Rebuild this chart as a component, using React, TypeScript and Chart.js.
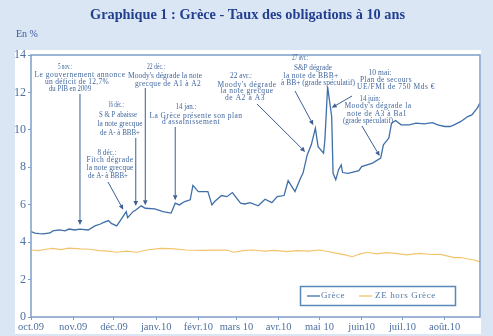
import React, { useEffect, useRef } from "react";
import { Chart, registerables } from "chart.js";

Chart.register(...registerables);

// Month ticks on the time axis
const monthStarts = [
  "2009-10-01", "2009-11-01", "2009-12-01", "2010-01-01", "2010-02-01", "2010-03-01",
  "2010-04-01", "2010-05-01", "2010-06-01", "2010-07-01", "2010-08-01",
];
const monthLabels = [
  "oct.09", "nov.09", "déc.09", "janv.10", "févr.10", "mars 10",
  "avr.10", "mai 10", "juin10", "juil.10", "août.10",
];
const yTickValues = [0, 2, 4, 6, 8, 10, 12, 14];

// Greek 10-year bond yield (%)
const greeceDates = [
  "2009-10-01", "2009-10-04", "2009-10-07", "2009-10-10", "2009-10-15", "2009-10-17",
  "2009-10-22", "2009-10-26", "2009-10-29", "2009-11-02", "2009-11-06", "2009-11-12",
  "2009-11-17", "2009-11-21", "2009-11-23", "2009-11-27", "2009-11-29", "2009-12-03",
  "2009-12-06", "2009-12-10", "2009-12-11", "2009-12-15", "2009-12-17", "2009-12-21",
  "2009-12-24", "2009-12-31", "2010-01-06", "2010-01-12", "2010-01-15", "2010-01-18",
  "2010-01-22", "2010-01-26", "2010-01-28", "2010-02-01", "2010-02-08", "2010-02-11",
  "2010-02-13", "2010-02-18", "2010-02-22", "2010-02-26", "2010-03-04", "2010-03-07",
  "2010-03-11", "2010-03-17", "2010-03-22", "2010-03-27", "2010-03-31", "2010-04-05",
  "2010-04-08", "2010-04-13", "2010-04-17", "2010-04-19", "2010-04-22", "2010-04-25",
  "2010-04-28", "2010-04-30", "2010-05-04", "2010-05-05", "2010-05-07", "2010-05-10",
  "2010-05-11", "2010-05-13", "2010-05-15", "2010-05-17", "2010-05-18", "2010-05-22",
  "2010-05-30", "2010-06-01", "2010-06-09", "2010-06-15", "2010-06-17", "2010-06-21",
  "2010-06-23", "2010-06-26", "2010-06-30", "2010-07-06", "2010-07-11", "2010-07-17",
  "2010-07-23", "2010-07-27", "2010-08-01", "2010-08-05", "2010-08-08", "2010-08-13",
  "2010-08-18", "2010-08-21", "2010-08-25", "2010-08-27",
];
const greeceValues = [
  4.56, 4.48, 4.45, 4.44, 4.49, 4.6,
  4.65, 4.6, 4.7, 4.65, 4.7, 4.65,
  4.87, 4.97, 5.04, 5.15, 5.0, 4.87,
  5.19, 5.63, 5.31, 5.63, 5.72, 5.94,
  5.81, 5.78, 5.63, 5.55, 6.08, 5.99,
  6.17, 6.26, 7.03, 6.7, 6.7, 5.99,
  6.17, 6.49, 6.43, 6.65, 6.08, 6.04,
  6.11, 5.94, 6.29, 6.11, 6.43, 6.49,
  7.29, 6.7, 7.4, 7.7, 8.66, 9.2,
  10.09, 9.1, 8.75, 9.47, 12.3, 10.7,
  7.68, 7.33, 7.86, 8.13, 7.72, 7.68,
  7.82, 8.04, 8.22, 8.49, 9.2, 9.56,
  10.36, 10.5, 10.27, 10.27, 10.36, 10.32,
  10.39, 10.27, 10.18, 10.18, 10.27, 10.45,
  10.71, 10.8, 11.16, 11.43,
];

// Euro area excluding Greece, 10-year yield (%)
const zeDates = [
  "2009-10-01", "2009-10-06", "2009-10-12", "2009-10-17", "2009-10-23", "2009-10-29",
  "2009-11-06", "2009-11-13", "2009-11-20", "2009-11-27", "2009-12-03", "2009-12-10",
  "2009-12-18", "2009-12-25", "2010-01-04", "2010-01-12", "2010-01-23", "2010-02-05",
  "2010-02-15", "2010-02-22", "2010-02-27", "2010-03-06", "2010-03-13", "2010-03-22",
  "2010-03-29", "2010-04-07", "2010-04-15", "2010-04-23", "2010-05-01", "2010-05-07",
  "2010-05-14", "2010-05-20", "2010-05-25", "2010-05-30", "2010-06-05", "2010-06-12",
  "2010-06-19", "2010-06-26", "2010-07-04", "2010-07-14", "2010-07-22", "2010-07-29",
  "2010-08-08", "2010-08-13", "2010-08-18", "2010-08-22", "2010-08-27",
];
const zeValues = [
  3.58, 3.55, 3.62, 3.67, 3.6, 3.68,
  3.64, 3.62, 3.55, 3.52, 3.46, 3.52,
  3.46, 3.58, 3.67, 3.65, 3.58, 3.56,
  3.57, 3.58, 3.46, 3.55, 3.58, 3.52,
  3.56, 3.49, 3.55, 3.52, 3.58, 3.5,
  3.4, 3.32, 3.22, 3.35, 3.46, 3.37,
  3.44, 3.4, 3.32, 3.4, 3.34, 3.35,
  3.17, 3.18, 3.1, 3.06, 2.94,
];

const SERIF = '"Liberation Serif", "Times New Roman", serif';
const PAGE_BG = "#dbe6f5";
const AXIS = "#7f9fc7";
const TICK_TEXT = "#4f70a0";
const NOTE_TEXT = "#41679e";
const NOTE_LINE = "#3d5f92";
const GREECE = "#3f6fa8";
const ZE = "#f3c46c";

const ORIGIN = Date.UTC(2009, 9, 1);
function dayOf(iso: string): number {
  const [y, m, d] = iso.split("-").map(Number);
  return (Date.UTC(y, m - 1, d) - ORIGIN) / 86400000;
}
const monthDays = monthStarts.map(dayOf);
const X_MAX = dayOf("2010-08-27");

type NoteLine = { text: string; cx: number; cy: number; w: number };
type Note = { date: string; dx: number; dy: number; tail: [number | null, number]; lines: NoteLine[] };

// Event call-outs: text blocks with an arrow ending on the Greek curve
const notes: Note[] = [
  {
    date: "2009-11-06", dx: 0, dy: -4, tail: [null, 94],
    lines: [
      { text: "5 nov.:", cx: 65, cy: 67.5, w: 14 },
      { text: "Le gouvernement annonce", cx: 80, cy: 75, w: 91 },
      { text: "un déficit de 12,7%", cx: 77, cy: 82, w: 64 },
      { text: "du PIB en 2009", cx: 70, cy: 89.5, w: 42 },
    ],
  },
  {
    date: "2009-12-10", dx: -3, dy: -2, tail: [108, 182],
    lines: [
      { text: "8 déc.:", cx: 107, cy: 153, w: 19 },
      { text: "Fitch dégrade", cx: 110, cy: 160, w: 47 },
      { text: "la note grecque", cx: 110, cy: 168, w: 47 },
      { text: "de A- à BBB+", cx: 108, cy: 176, w: 40 },
    ],
  },
  {
    date: "2009-12-17", dx: 0, dy: -4, tail: [null, 138],
    lines: [
      { text: "16 déc.:", cx: 116, cy: 105.5, w: 16 },
      { text: "S & P abaisse", cx: 118, cy: 115, w: 38 },
      { text: "la note grecque", cx: 120, cy: 124, w: 45 },
      { text: "de A- à BBB+", cx: 120, cy: 133, w: 40 },
    ],
  },
  {
    date: "2009-12-24", dx: 0, dy: -3, tail: [null, 88],
    lines: [
      { text: "22 déc.:", cx: 156, cy: 67.5, w: 18 },
      { text: "Moody's dégrade la note", cx: 165, cy: 76.5, w: 74 },
      { text: "grecque de A1 à A2", cx: 168, cy: 84, w: 66 },
    ],
  },
  {
    date: "2010-01-15", dx: 0, dy: -3, tail: [null, 127],
    lines: [
      { text: "14 jan.:", cx: 186, cy: 107, w: 21 },
      { text: "La Grèce présente son plan", cx: 196, cy: 116, w: 93 },
      { text: "d'assainissement", cx: 191, cy: 122.5, w: 58 },
    ],
  },
  {
    date: "2010-04-22", dx: -2, dy: -3, tail: [257, 104],
    lines: [
      { text: "22 avr.:", cx: 241, cy: 76.5, w: 22 },
      { text: "Moody's dégrade", cx: 247, cy: 85, w: 59 },
      { text: "la note grecque", cx: 247, cy: 91.5, w: 53 },
      { text: "de A2 à A3", cx: 245, cy: 98.5, w: 40 },
    ],
  },
  {
    date: "2010-04-28", dx: -2, dy: -3, tail: [295, 91],
    lines: [
      { text: "27 avr.:", cx: 300, cy: 58.5, w: 16 },
      { text: "S&P dégrade", cx: 313, cy: 68.5, w: 38 },
      { text: "la note de BBB+", cx: 311, cy: 76.5, w: 55 },
      { text: "à BB+ (grade spéculatif)", cx: 318, cy: 83.5, w: 74 },
    ],
  },
  {
    date: "2010-05-10", dx: 0, dy: -9, tail: [352, 96],
    lines: [
      { text: "10 mai:", cx: 380, cy: 73.5, w: 23 },
      { text: "Plan de secours", cx: 386, cy: 80.5, w: 52 },
      { text: "UE/FMI de 750 Mds €", cx: 396, cy: 87.5, w: 78 },
    ],
  },
  {
    date: "2010-06-15", dx: -1, dy: -2, tail: [362, 126],
    lines: [
      { text: "14 juin:", cx: 370, cy: 99.5, w: 21 },
      { text: "Moody's dégrade la", cx: 378, cy: 106.5, w: 67 },
      { text: "note de A3 à Ba1", cx: 377, cy: 114, w: 60 },
      { text: "(grade spéculatif)", cx: 368, cy: 121, w: 50 },
    ],
  },
];

// Draws text centred on cx and stretched or squeezed to the given width
function fitText(ctx: CanvasRenderingContext2D, text: string, cx: number, cy: number, w: number) {
  const anyCtx = ctx as any;
  anyCtx.letterSpacing = "0px";
  const natural = ctx.measureText(text).width;
  ctx.textAlign = "left";
  ctx.textBaseline = "middle";
  if (natural >= w) {
    ctx.fillText(text, cx - w / 2, cy, w);
  } else {
    const ls = (w - natural) / text.length;
    anyCtx.letterSpacing = `${ls}px`;
    ctx.fillText(text, cx - w / 2, cy);
    anyCtx.letterSpacing = "0px";
  }
}

function arrow(ctx: CanvasRenderingContext2D, x1: number, y1: number, x2: number, y2: number) {
  const ang = Math.atan2(y2 - y1, x2 - x1);
  const len = 5;
  const half = 2.3;
  const bx = x2 - len * Math.cos(ang);
  const by = y2 - len * Math.sin(ang);
  ctx.strokeStyle = NOTE_LINE;
  ctx.fillStyle = NOTE_LINE;
  ctx.lineWidth = 1;
  ctx.beginPath();
  ctx.moveTo(x1, y1);
  ctx.lineTo(bx, by);
  ctx.stroke();
  ctx.beginPath();
  ctx.moveTo(x2, y2);
  ctx.lineTo(bx + half * Math.sin(ang), by - half * Math.cos(ang));
  ctx.lineTo(bx - half * Math.sin(ang), by + half * Math.cos(ang));
  ctx.closePath();
  ctx.fill();
}

const decorPlugin = {
  id: "decor",
  beforeDraw(chart: any) {
    const ctx: CanvasRenderingContext2D = chart.ctx;
    ctx.save();
    ctx.fillStyle = PAGE_BG;
    ctx.fillRect(0, 0, chart.width, chart.height);
    ctx.fillStyle = "#ffffff";
    ctx.fillRect(15, 50, chart.chartArea.right - 15 + 1, chart.height - 52);
    ctx.restore();
  },
  afterDraw(chart: any) {
    const ctx: CanvasRenderingContext2D = chart.ctx;
    const { left, right, top, bottom } = chart.chartArea;
    const xs = chart.scales.x;
    const ys = chart.scales.y;
    ctx.save();

    // plot frame
    ctx.strokeStyle = AXIS;
    ctx.lineWidth = 1.5;
    ctx.strokeRect(left, top, right - left, bottom - top);

    // title and unit
    ctx.fillStyle = "#213f8f";
    ctx.font = `bold 15px ${SERIF}`;
    ctx.textAlign = "center";
    ctx.textBaseline = "middle";
    ctx.fillText("Graphique 1 : Grèce - Taux des obligations à 10 ans", 247.5, 15.5, 315);
    ctx.fillStyle = "#3a5a9a";
    ctx.font = `10px ${SERIF}`;
    ctx.textAlign = "left";
    ctx.fillText("En %", 16, 34.5);

    // call-outs
    ctx.font = `7.5px ${SERIF}`;
    for (const n of notes) {
      ctx.fillStyle = NOTE_TEXT;
      for (const l of n.lines) fitText(ctx, l.text, l.cx, l.cy, l.w);
      const v = greeceValues[greeceDates.indexOf(n.date)];
      const tx = xs.getPixelForValue(dayOf(n.date)) + n.dx;
      const ty = ys.getPixelForValue(v) + n.dy;
      const sx = n.tail[0] === null ? tx : n.tail[0];
      arrow(ctx, sx, n.tail[1], tx, ty);
    }

    // legend
    const lx = 300.5, ly = 286.5, lw = 155, lh = 19;
    ctx.fillStyle = "#ffffff";
    ctx.fillRect(lx, ly, lw, lh);
    ctx.strokeStyle = "#5b87ba";
    ctx.lineWidth = 1.5;
    ctx.strokeRect(lx, ly, lw, lh);
    const midY = ly + lh / 2;
    ctx.lineWidth = 1.3;
    ctx.strokeStyle = GREECE;
    ctx.beginPath();
    ctx.moveTo(307, midY);
    ctx.lineTo(320, midY);
    ctx.stroke();
    ctx.strokeStyle = ZE;
    ctx.beginPath();
    ctx.moveTo(359, midY);
    ctx.lineTo(372, midY);
    ctx.stroke();
    ctx.fillStyle = "#5577a6";
    ctx.font = `9px ${SERIF}`;
    fitText(ctx, "Grèce", 333, midY, 24);
    fitText(ctx, "ZE hors Grèce", 405.5, midY, 61);

    ctx.restore();
  },
};

export default function App() {
  const canvasRef = useRef<HTMLCanvasElement | null>(null);

  useEffect(() => {
    const canvas = canvasRef.current;
    if (!canvas) return;

    const chart = new Chart(canvas, {
      type: "line",
      data: {
        datasets: [
          {
            label: "ZE hors Grèce",
            data: zeDates.map((d, i) => ({ x: dayOf(d), y: zeValues[i] })),
            borderColor: ZE,
            borderWidth: 1.2,
            pointRadius: 0,
            tension: 0,
          },
          {
            label: "Grèce",
            data: greeceDates.map((d, i) => ({ x: dayOf(d), y: greeceValues[i] })),
            borderColor: GREECE,
            borderWidth: 1.3,
            pointRadius: 0,
            tension: 0,
          },
        ],
      },
      options: {
        animation: false,
        responsive: false,
        maintainAspectRatio: false,
        layout: { padding: { left: 15, right: 13, top: 55, bottom: 0 } },
        plugins: {
          legend: { display: false },
          title: { display: false },
          tooltip: { enabled: false },
        },
        scales: {
          x: {
            type: "linear",
            min: 0,
            max: X_MAX,
            afterFit: (s: any) => {
              s.height = 19;
            },
            afterBuildTicks: (axis: any) => {
              axis.ticks = monthDays.map((v) => ({ value: v }));
            },
            ticks: {
              autoSkip: false,
              maxRotation: 0,
              minRotation: 0,
              padding: 1,
              color: TICK_TEXT,
              font: { family: SERIF, size: 10.5 },
              callback: (v: any) => {
                const i = monthDays.indexOf(Number(v));
                return i >= 0 ? monthLabels[i] : "";
              },
            },
            grid: { display: true, drawOnChartArea: false, drawTicks: true, tickLength: 3, color: AXIS },
            border: { display: false },
          },
          y: {
            min: 0,
            max: 14,
            afterFit: (s: any) => {
              s.width = 16;
            },
            afterBuildTicks: (axis: any) => {
              axis.ticks = yTickValues.map((v) => ({ value: v }));
            },
            ticks: {
              padding: 2,
              color: TICK_TEXT,
              font: { family: SERIF, size: 12 },
            },
            grid: { display: true, drawOnChartArea: false, drawTicks: true, tickLength: 3, color: AXIS },
            border: { display: false },
          },
        },
      },
      plugins: [decorPlugin],
    });

    return () => chart.destroy();
  }, []);

  return (
    <div style={{ position: "fixed", left: 0, top: 0, width: 493, height: 336, background: PAGE_BG }}>
      <canvas ref={canvasRef} width={493} height={336} style={{ display: "block" }} />
    </div>
  );
}
